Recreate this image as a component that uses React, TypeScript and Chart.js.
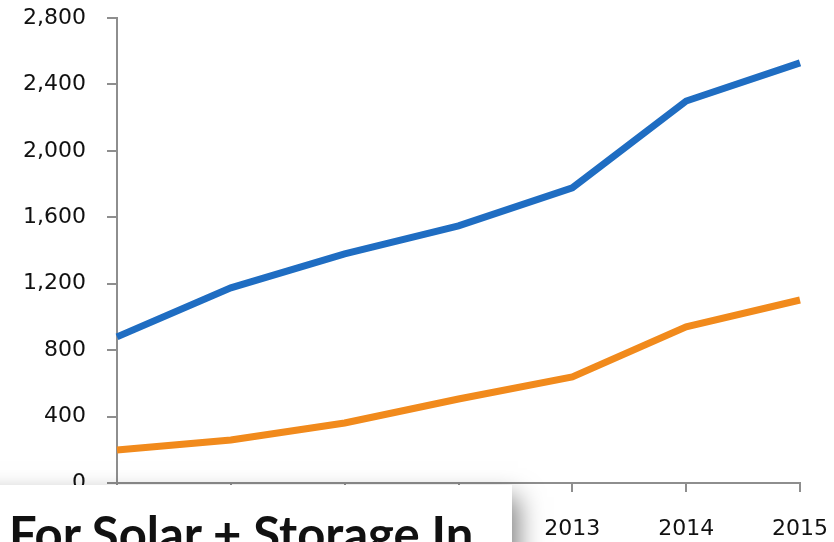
import React, { useEffect, useRef } from "react";
import { Chart, registerables } from "chart.js";

Chart.register(...registerables);

const years = ["2009", "2010", "2011", "2012", "2013", "2014", "2015"];
const blueSeries = [880, 1175, 1380, 1548, 1777, 2300, 2530];
const orangeSeries = [199, 259, 361, 506, 639, 940, 1102];
const yTicksMax = 2800;
const yStep = 400;
const overlayTitle = "For Solar + Storage In";

const axisGray = "#8e8e8e";
const tickFont = { family: "'DejaVu Sans', sans-serif", size: 22 };

export default function App() {
  const canvasRef = useRef<HTMLCanvasElement | null>(null);

  useEffect(() => {
    if (!canvasRef.current) return;
    const chart = new Chart(canvasRef.current, {
      type: "line",
      data: {
        labels: years,
        datasets: [
          {
            label: "Series 1",
            data: blueSeries,
            borderColor: "#1f6dc2",
            borderWidth: 7,
            pointRadius: 0,
            tension: 0,
            fill: false,
          },
          {
            label: "Series 2",
            data: orangeSeries,
            borderColor: "#f18a1c",
            borderWidth: 7,
            pointRadius: 0,
            tension: 0,
            fill: false,
          },
        ],
      },
      options: {
        animation: false,
        responsive: false,
        maintainAspectRatio: false,
        layout: { padding: { top: 18, right: 34, left: 0, bottom: 0 } },
        plugins: {
          legend: { display: false },
          tooltip: { enabled: false },
        },
        scales: {
          x: {
            offset: false,
            grid: {
              drawOnChartArea: false,
              drawTicks: true,
              tickLength: 9,
              color: axisGray,
              lineWidth: 2,
            },
            border: { display: true, color: axisGray, width: 2 },
            ticks: {
              font: tickFont,
              color: "#111",
              padding: 24,
              maxRotation: 0,
              autoSkip: false,
            },
            afterFit: (scale: any) => {
              scale.height = 59;
              scale.paddingLeft = 0;
              scale.paddingRight = 0;
            },
          },
          y: {
            min: 0,
            max: yTicksMax,
            grid: {
              drawOnChartArea: false,
              drawTicks: true,
              tickLength: 10,
              color: axisGray,
              lineWidth: 2,
            },
            border: { display: true, color: axisGray, width: 2 },
            ticks: {
              stepSize: yStep,
              font: tickFont,
              color: "#111",
              padding: 21,
              callback: (v: any) => Number(v).toLocaleString("en-US"),
            },
            afterFit: (scale: any) => {
              scale.width = 117;
              scale.paddingTop = 0;
              scale.paddingBottom = 0;
            },
          },
        },
      },
    });
    return () => chart.destroy();
  }, []);

  return (
    <div style={{ position: "absolute", left: 0, top: 0, width: 834, height: 542, overflow: "hidden", background: "#fff" }}>
      <canvas ref={canvasRef} width={834} height={542} style={{ width: 834, height: 542, display: "block" }} />
      <div
        style={{
          position: "absolute",
          left: -40,
          top: 485,
          width: 552,
          height: 120,
          background: "#fff",
          boxShadow: "6px 12px 24px rgba(0,0,0,0.5)",
        }}
      >
        <div
          style={{
            position: "absolute",
            left: 49,
            top: 19,
            fontFamily: "Lato, 'Open Sans', sans-serif",
            fontWeight: 700,
            fontSize: 49,
            lineHeight: 1.2,
            color: "#111",
            whiteSpace: "nowrap",
          }}
        >
          {overlayTitle}
        </div>
      </div>
    </div>
  );
}
